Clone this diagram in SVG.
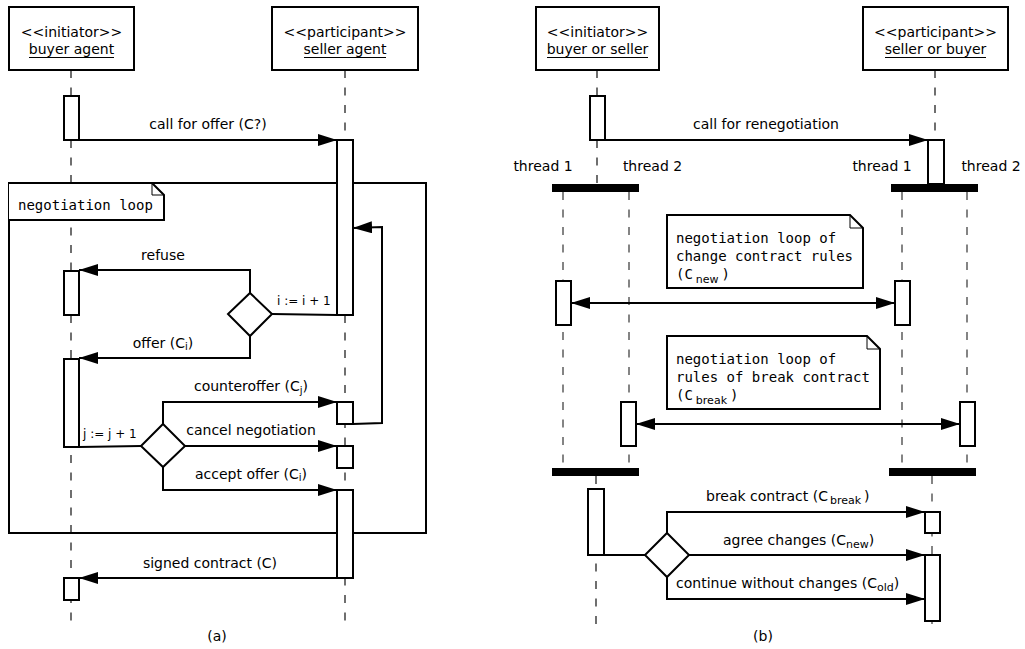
<svg xmlns="http://www.w3.org/2000/svg" width="1025" height="649" viewBox="0 0 1025 649">
<defs>
<marker id="ah" viewBox="0 0 19 12" refX="19" refY="6" markerWidth="19" markerHeight="12" markerUnits="userSpaceOnUse" orient="auto-start-reverse"><path d="M0,0 L19,6 L0,12 z" fill="#000"/></marker>
<style>
.box{fill:#fff;stroke:#000;stroke-width:2}
.act{fill:#fff;stroke:#000;stroke-width:2}
.life{stroke:#222;stroke-width:1.3;stroke-dasharray:8 9.5;fill:none}
.tlife{stroke:#666;stroke-width:1.6;stroke-dasharray:8 9.5;fill:none}
.msg{stroke:#000;stroke-width:2;fill:none;marker-end:url(#ah)}
.dbl{stroke:#000;stroke-width:2;fill:none;marker-end:url(#ah);marker-start:url(#ah)}
.ln{stroke:#000;stroke-width:2;fill:none}
.bar{fill:#000}
text{font-family:"DejaVu Sans",sans-serif;font-size:14px;fill:#000}
.c{text-anchor:middle}
.mono{font-family:"DejaVu Sans Mono",monospace;font-size:14px}
.sm{font-size:12px}
.sub{font-size:10px}
.ul{stroke:#000;stroke-width:1}
</style>
</defs>
<rect width="1025" height="649" fill="#fff"/>

<!-- lifelines -->
<g id="lifelines">
<line class="life" x1="71" y1="70" x2="71" y2="622"/>
<line class="life" x1="345" y1="70" x2="345" y2="622"/>
<line class="life" x1="597" y1="70" x2="597" y2="184"/>
<line class="life" x1="935" y1="70" x2="935" y2="184"/>
<line class="tlife" x1="563" y1="192" x2="563" y2="468"/>
<line class="tlife" x1="629" y1="192" x2="629" y2="468"/>
<line class="tlife" x1="902" y1="192" x2="902" y2="468"/>
<line class="tlife" x1="967" y1="192" x2="967" y2="468"/>
<line class="life" x1="596" y1="476" x2="596" y2="632"/>
<line class="tlife" x1="932" y1="476" x2="932" y2="630"/>
</g>

<!-- (a) -->
<g id="buyer-agent">
<rect class="box" x="9" y="7" width="125" height="63"/>
<text class="c" x="71.5" y="37">&lt;&lt;initiator&gt;&gt;</text>
<text class="c" x="71.5" y="54">buyer agent</text>
<line class="ul" x1="29" y1="57.5" x2="114" y2="57.5"/>
</g>
<g id="seller-agent">
<rect class="box" x="272" y="7" width="146" height="63"/>
<text class="c" x="345" y="37">&lt;&lt;participant&gt;&gt;</text>
<text class="c" x="345" y="54">seller agent</text>
<line class="ul" x1="304" y1="57.5" x2="386" y2="57.5"/>
</g>

<g id="loop-frame">
<rect x="9" y="183" width="417" height="350" fill="none" stroke="#000" stroke-width="2"/>
<path d="M9,183 L152,183 L164,195 L164,220 L9,220" fill="#fff" stroke="#000" stroke-width="2"/>
<path d="M152,183 L152,195 L164,195" fill="none" stroke="#000" stroke-width="1"/>
<text class="mono" x="18" y="210">negotiation loop</text>
</g>

<g id="activations-a">
<rect class="act" x="64" y="96" width="15" height="44"/>
<rect class="act" x="337" y="140" width="16" height="175"/>
<rect class="act" x="64" y="271" width="15" height="44"/>
<rect class="act" x="64" y="359" width="15" height="88"/>
<rect class="act" x="337" y="402" width="16" height="22"/>
<rect class="act" x="337" y="446" width="16" height="22"/>
<rect class="act" x="337" y="490" width="16" height="88"/>
<rect class="act" x="64" y="578" width="15" height="22"/>
</g>

<g id="diamond-i">
<path d="M250,293 L272,314 L250,336 L228,314 z" fill="#fff" stroke="#000" stroke-width="2"/>
</g>
<g id="diamond-j">
<path d="M163,424 L185,446 L163,467 L141,446 z" fill="#fff" stroke="#000" stroke-width="2"/>
</g>

<g id="connectors-a">
<line class="msg" x1="79" y1="140" x2="337" y2="140"/>
<polyline class="msg" points="250,293 250,270 79,270"/>
<line class="ln" x1="272" y1="314" x2="337" y2="315"/>
<polyline class="msg" points="250,336 250,358 79,358"/>
<polyline class="msg" points="353,424 382,423 382,227 353,228"/>
<line class="ln" x1="79" y1="447" x2="141" y2="446"/>
<polyline class="msg" points="163,424 163,402 337,402"/>
<line class="msg" x1="185" y1="446" x2="337" y2="446"/>
<polyline class="msg" points="163,467 163,490 337,490"/>
<line class="msg" x1="337" y1="578" x2="79" y2="578"/>
</g>

<g id="labels-a">
<text class="c" x="208" y="129">call for offer (C?)</text>
<text class="c" x="163" y="260">refuse</text>
<text class="sm" x="277" y="305">i := i + 1</text>
<text class="c" x="163" y="348">offer (C<tspan class="sub" dy="2">i</tspan><tspan dy="-2">)</tspan></text>
<text class="c" x="251" y="391">counteroffer (C<tspan class="sub" dy="3">j</tspan><tspan dy="-3">)</tspan></text>
<text class="sm" x="83" y="438">j := j + 1</text>
<text class="c" x="251" y="435">cancel negotiation</text>
<text class="c" x="251" y="479">accept offer (C<tspan class="sub" dy="2">i</tspan><tspan dy="-2">)</tspan></text>
<text class="c" x="210" y="568">signed contract (C)</text>
<text class="c" x="217" y="641">(a)</text>
</g>

<!-- (b) -->
<g id="buyer-or-seller">
<rect class="box" x="536" y="7" width="123" height="63"/>
<text class="c" x="597.5" y="37">&lt;&lt;initiator&gt;&gt;</text>
<text class="c" x="597.5" y="54">buyer or seller</text>
<line class="ul" x1="547" y1="57.5" x2="648" y2="57.5"/>
</g>
<g id="seller-or-buyer">
<rect class="box" x="863" y="7" width="145" height="63"/>
<text class="c" x="935.5" y="37">&lt;&lt;participant&gt;&gt;</text>
<text class="c" x="935.5" y="54">seller or buyer</text>
<line class="ul" x1="885" y1="57.5" x2="986" y2="57.5"/>
</g>

<g id="fork-join">
<rect class="bar" x="552" y="184" width="87" height="8"/>
<rect class="bar" x="891" y="184" width="87" height="8"/>
<rect class="bar" x="552" y="468" width="87" height="8"/>
<rect class="bar" x="889" y="468" width="87" height="8"/>
<text class="c" x="543" y="171">thread 1</text>
<text class="c" x="652.5" y="171">thread 2</text>
<text class="c" x="882" y="171">thread 1</text>
<text class="c" x="991" y="171">thread 2</text>
</g>

<g id="note-new">
<path d="M667,215 L850,215 L863,228 L863,288 L667,288 z" fill="#fff" stroke="#000" stroke-width="2"/>
<path d="M850,215 L850,228 L863,228" fill="none" stroke="#000" stroke-width="1"/>
<text class="mono" x="676" y="243">negotiation loop of</text>
<text class="mono" x="676" y="261">change contract rules</text>
<text class="mono" x="676" y="279">(C<tspan class="sub" style="font-family:'DejaVu Sans',sans-serif;font-size:11px" dx="3" dy="4">new</tspan><tspan dx="3" dy="-4">)</tspan></text>
</g>
<g id="note-break">
<path d="M667,336 L867,336 L880,349 L880,409 L667,409 z" fill="#fff" stroke="#000" stroke-width="2"/>
<path d="M867,336 L867,349 L880,349" fill="none" stroke="#000" stroke-width="1"/>
<text class="mono" x="676" y="364">negotiation loop of</text>
<text class="mono" x="676" y="382">rules of break contract</text>
<text class="mono" x="676" y="400">(C<tspan class="sub" style="font-family:'DejaVu Sans',sans-serif;font-size:11px" dx="3" dy="4">break</tspan><tspan dx="3" dy="-4">)</tspan></text>
</g>

<g id="activations-b">
<rect class="act" x="590" y="96" width="15" height="44"/>
<rect class="act" x="928" y="140" width="16" height="44"/>
<rect class="act" x="556" y="281" width="15" height="44"/>
<rect class="act" x="895" y="281" width="15" height="44"/>
<rect class="act" x="621" y="402" width="15" height="44"/>
<rect class="act" x="960" y="402" width="15" height="44"/>
<rect class="act" x="588" y="489" width="16" height="66"/>
<rect class="act" x="925" y="512" width="15" height="21"/>
<rect class="act" x="925" y="555" width="15" height="66"/>
</g>

<g id="diamond-b">
<path d="M667,533 L689,555 L667,577 L645,555 z" fill="#fff" stroke="#000" stroke-width="2"/>
</g>

<g id="connectors-b">
<line class="msg" x1="605" y1="140" x2="928" y2="140"/>
<line class="dbl" x1="571" y1="303" x2="895" y2="303"/>
<line class="dbl" x1="636" y1="424" x2="960" y2="424"/>
<line class="ln" x1="604" y1="555" x2="645" y2="555"/>
<polyline class="msg" points="667,533 667,512 925,512"/>
<line class="msg" x1="689" y1="555" x2="925" y2="555"/>
<polyline class="msg" points="667,577 667,599 925,599"/>
</g>

<g id="labels-b">
<text class="c" x="766" y="129">call for renegotiation</text>
<text x="706" y="501">break contract (C<tspan class="sub" style="font-size:11px" dx="2" dy="3">break</tspan><tspan dx="3" dy="-3">)</tspan></text>
<text x="723" y="545">agree changes (C<tspan class="sub" style="font-size:11px" dy="3">new</tspan><tspan dy="-3">)</tspan></text>
<text x="676" y="588">continue without changes (C<tspan class="sub" style="font-size:11px" dy="3">old</tspan><tspan dy="-3">)</tspan></text>
<text class="c" x="763" y="641">(b)</text>
</g>
</svg>
